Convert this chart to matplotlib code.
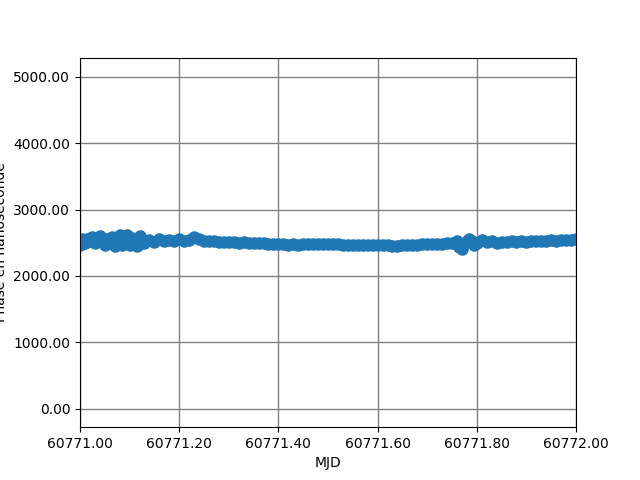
import matplotlib
matplotlib.use("Agg")
import matplotlib.pyplot as plt
from matplotlib.ticker import FormatStrFormatter, MultipleLocator

# phase measurements, offsets in days from MJD 60771
mjd_offset = [
    0.000, 0.005, 0.010, 0.015, 0.020, 0.025, 0.030, 0.035, 0.040, 0.045,
    0.050, 0.055, 0.060, 0.065, 0.070, 0.075, 0.080, 0.085, 0.090, 0.095,
    0.100, 0.105, 0.110, 0.115, 0.120, 0.125, 0.130,
    0.14, 0.15, 0.16, 0.17, 0.18, 0.19, 0.20, 0.21, 0.22, 0.23, 0.24,
    0.25, 0.26, 0.27, 0.28, 0.29, 0.30, 0.31, 0.32, 0.33, 0.34, 0.35,
    0.36, 0.37, 0.38, 0.39, 0.40, 0.41, 0.42, 0.43, 0.44, 0.45, 0.46,
    0.47, 0.48, 0.49, 0.50, 0.51, 0.52, 0.53, 0.54, 0.55, 0.56, 0.57,
    0.58, 0.59, 0.60, 0.61, 0.62, 0.63, 0.64, 0.65, 0.66, 0.67, 0.68,
    0.69, 0.70, 0.71, 0.72, 0.73, 0.74, 0.75, 0.76, 0.765, 0.77, 0.775,
    0.78, 0.785, 0.79, 0.795, 0.80, 0.81, 0.82, 0.83, 0.84, 0.85, 0.86,
    0.87, 0.88, 0.89, 0.90, 0.91, 0.92, 0.93, 0.94, 0.95, 0.96, 0.97,
    0.98, 0.99, 1.00,
]
phase_ns = [
    2470, 2550, 2500, 2560, 2520, 2580, 2490, 2560, 2600, 2520,
    2470, 2560, 2500, 2590, 2450, 2540, 2610, 2470, 2580, 2620,
    2460, 2570, 2510, 2450, 2600, 2540, 2500,
    2540, 2510, 2550, 2520, 2540, 2530, 2550, 2530, 2545, 2590, 2560,
    2530, 2520, 2525, 2510, 2515, 2505, 2510, 2500, 2505, 2500, 2495,
    2500, 2490, 2485, 2480, 2475, 2480, 2470, 2475, 2470, 2475, 2480,
    2485, 2480, 2485, 2480, 2478, 2475, 2472, 2470, 2470, 2468, 2470,
    2468, 2466, 2468, 2465, 2462, 2458, 2455, 2460, 2465, 2470, 2472,
    2478, 2475, 2482, 2485, 2488, 2495, 2490, 2530, 2440, 2400, 2480,
    2530, 2560, 2520, 2470, 2500, 2540, 2510, 2520, 2500, 2515, 2505,
    2520, 2510, 2525, 2515, 2530, 2520, 2530, 2525, 2535, 2530, 2540,
    2535, 2545, 2560,
]
mjd_start = 60771

mjd = [mjd_start + d for d in mjd_offset]

fig, ax = plt.subplots(figsize=(6.4, 4.8), dpi=100)
ax.plot(mjd, phase_ns, 'o', color='#1f77b4', markersize=8)

ax.set_xlim(60771.0, 60772.0)
ax.set_ylim(-280, 5290)
ax.xaxis.set_major_locator(MultipleLocator(0.2))
ax.yaxis.set_major_locator(MultipleLocator(1000))
ax.xaxis.set_major_formatter(FormatStrFormatter('%.2f'))
ax.yaxis.set_major_formatter(FormatStrFormatter('%.2f'))
ax.grid(True, color='gray', linewidth=1)
ax.set_xlabel("MJD")
ax.set_ylabel("Phase en nanoseconde")

fig.savefig("out.png")
